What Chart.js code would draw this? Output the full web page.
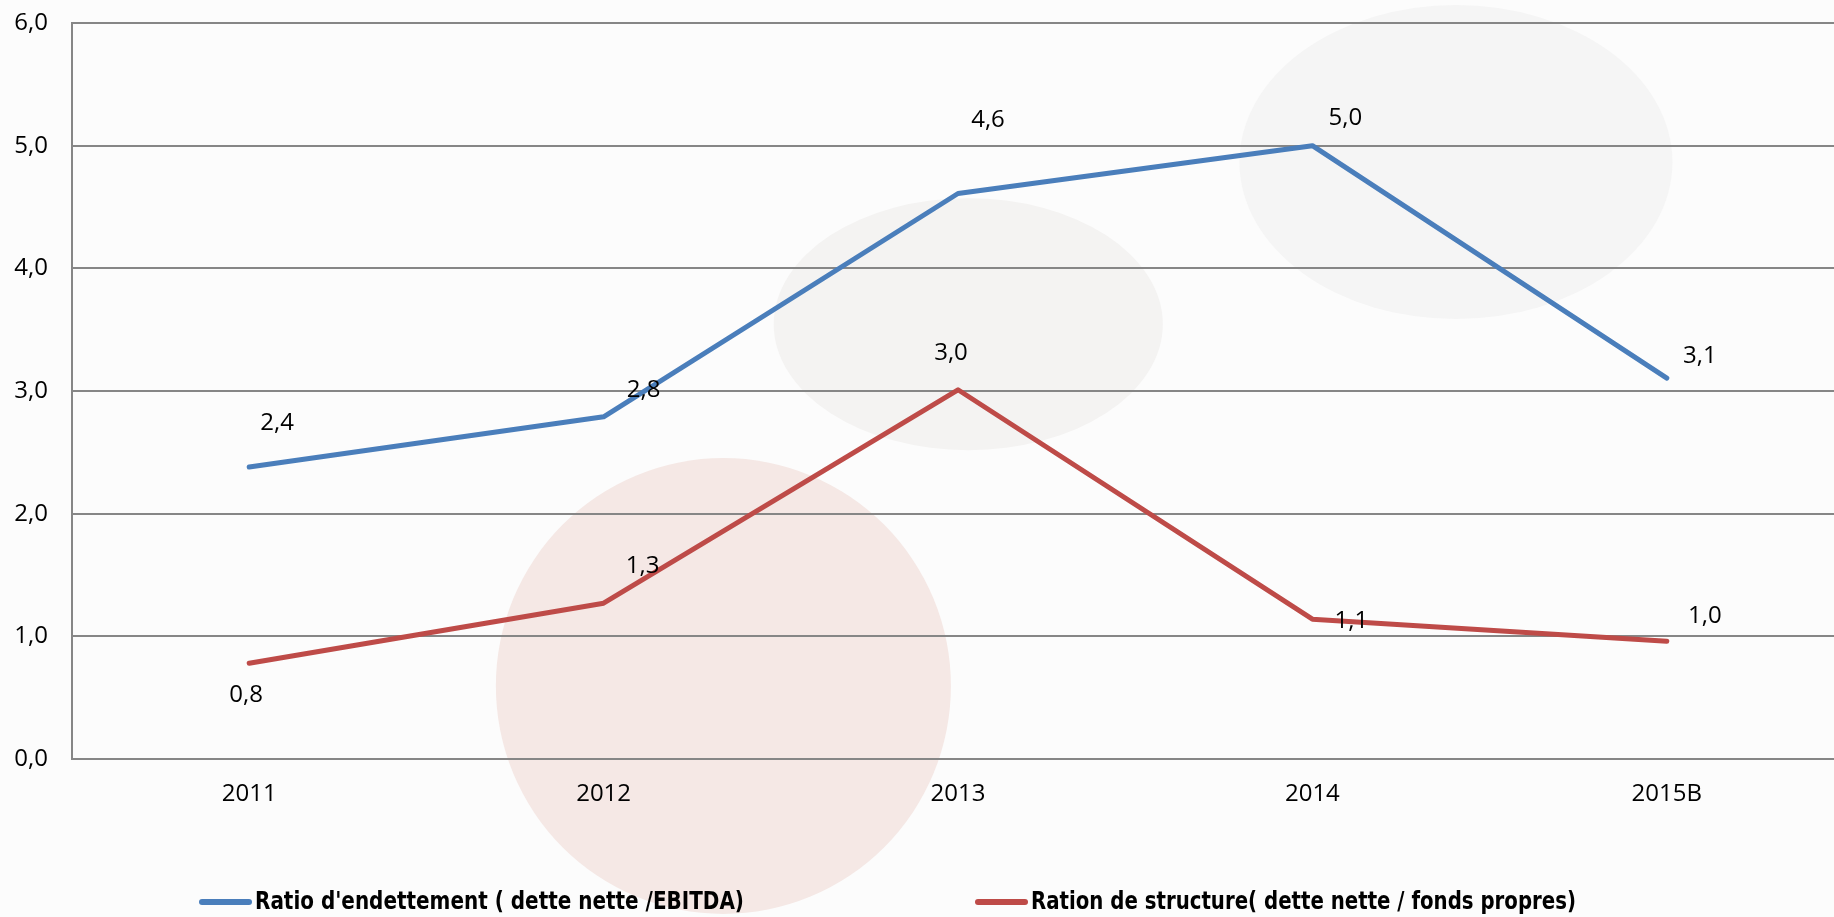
<!DOCTYPE html>
<html>
<head>
<meta charset="utf-8">
<script src="https://cdn.jsdelivr.net/npm/chart.js@4"></script>
<style>
  html, body { margin: 0; padding: 0; background: #fcfcfc; overflow: hidden; }
  #wrap { width: 1844px; height: 917px; position: relative; }
</style>
</head>
<body>
<div id="wrap"><canvas id="ratioChart"></canvas></div>
<script>
const years = ["2011", "2012", "2013", "2014", "2015B"];
const ratioEndettement = [2.38, 2.79, 4.61, 5.0, 3.105];
const ratioStructure = [0.78, 1.27, 3.01, 1.14, 0.96];
const yTicks = [0, 1, 2, 3, 4, 5, 6];

// decorative blobs behind the plot, in scale units: [xIndex, yValue, rx(index), ry(value), colour]
const blobs = [
  [1.338, 0.595, 0.642, 1.858, "#f5e8e5"],
  [2.029, 3.545, 0.549, 1.027, "#f4f3f2"],
  [3.405, 4.866, 0.611, 1.28, "#f5f5f5"],
];

// label offsets (px) from each point
const labelOffsets = [
  [[28, -44], [40, -27], [30, -73], [33, -28], [33, -22]],
  [[-3, 32], [39, -37], [-7, -37], [39, 2], [38, -25]],
];

const fmt = (v) => v.toFixed(1).replace(".", ",");
const tickFont = { family: "'Open Sans', 'Noto Sans', sans-serif", size: 24 };

const blobPlugin = {
  id: "blobs",
  beforeDraw(chart) {
    const { ctx, scales } = chart;
    const x = scales.x, y = scales.y;
    const unitX = x.getPixelForValue(1) - x.getPixelForValue(0);
    const unitY = y.getPixelForValue(0) - y.getPixelForValue(1);
    ctx.save();
    ctx.fillStyle = "#fcfcfc";
    ctx.fillRect(0, 0, chart.width, chart.height);
    blobs.forEach(([bx, by, rx, ry, col]) => {
      ctx.beginPath();
      ctx.ellipse(x.getPixelForValue(bx), y.getPixelForValue(by), rx * unitX, ry * unitY, 0, 0, Math.PI * 2);
      ctx.fillStyle = col;
      ctx.fill();
    });
    ctx.restore();
  },
};

const labelPlugin = {
  id: "pointLabels",
  afterDatasetsDraw(chart) {
    const ctx = chart.ctx;
    ctx.save();
    ctx.font = "24px " + tickFont.family;
    ctx.fillStyle = "#000";
    ctx.textAlign = "center";
    ctx.textBaseline = "middle";
    chart.data.datasets.forEach((ds, di) => {
      chart.getDatasetMeta(di).data.forEach((pt, i) => {
        const off = labelOffsets[di][i];
        ctx.fillText(fmt(ds.data[i]), pt.x + off[0], pt.y + off[1]);
      });
    });
    ctx.restore();
  },
};

const legendPlugin = {
  id: "bottomLegend",
  afterDraw(chart) {
    const ctx = chart.ctx;
    const starts = [199, 975];
    const textWidths = [489, 545]; // narrow bold face in the original
    const yMid = 902;
    ctx.save();
    ctx.font = "bold 25px 'DejaVu Sans Condensed', 'Open Sans', sans-serif";
    ctx.textBaseline = "middle";
    ctx.textAlign = "left";
    chart.data.datasets.forEach((ds, i) => {
      const x0 = starts[i];
      ctx.strokeStyle = ds.borderColor;
      ctx.lineWidth = 6;
      ctx.lineCap = "round";
      ctx.beginPath();
      ctx.moveTo(x0 + 3, yMid);
      ctx.lineTo(x0 + 50, yMid);
      ctx.stroke();
      const w = ctx.measureText(ds.label).width;
      const sx = Math.min(1, textWidths[i] / w);
      ctx.save();
      ctx.translate(x0 + 56, yMid);
      ctx.scale(sx, 1);
      ctx.fillStyle = "#000";
      ctx.fillText(ds.label, 0, 0);
      ctx.restore();
    });
    ctx.restore();
  },
};

const ctx = document.getElementById("ratioChart").getContext("2d");

new Chart(ctx, {
  type: "line",
  data: {
    labels: years,
    datasets: [
      {
        label: "Ratio d'endettement ( dette nette /EBITDA)",
        data: ratioEndettement,
        borderColor: "#4a7ebb",
        borderWidth: 5,
        pointRadius: 0,
        tension: 0,
        borderJoinStyle: "round",
        borderCapStyle: "round",
      },
      {
        label: "Ration de structure( dette nette / fonds propres)",
        data: ratioStructure,
        borderColor: "#be4b48",
        borderWidth: 5,
        pointRadius: 0,
        tension: 0,
        borderJoinStyle: "round",
        borderCapStyle: "round",
      },
    ],
  },
  options: {
    responsive: true,
    maintainAspectRatio: false,
    animation: false,
    layout: {
      autoPadding: false,
      padding: { top: 23, right: 0, bottom: 98, left: 0 },
    },
    plugins: {
      legend: { display: false },
      tooltip: { enabled: false },
    },
    scales: {
      x: {
        offset: true,
        grid: { display: false, drawTicks: false },
        border: { display: true, color: "#868686", width: 2 },
        ticks: { font: tickFont, color: "#000", padding: 21 },
        afterFit(scale) {
          scale.height = 60;
          scale.paddingLeft = 0;
          scale.paddingRight = 0;
        },
      },
      y: {
        min: 0,
        max: 6,
        afterBuildTicks(scale) { scale.ticks = yTicks.map((v) => ({ value: v })); },
        grid: { color: "#868686", lineWidth: 2, drawTicks: false },
        border: { display: true, color: "#868686", width: 2 },
        ticks: {
          font: tickFont,
          color: "#000",
          padding: 24,
          callback: (v) => fmt(v),
        },
        afterFit(scale) {
          scale.width = 72;
          scale.paddingTop = 0;
          scale.paddingBottom = 0;
        },
      },
    },
  },
  plugins: [blobPlugin, labelPlugin, legendPlugin],
});
</script>
</body>
</html>
